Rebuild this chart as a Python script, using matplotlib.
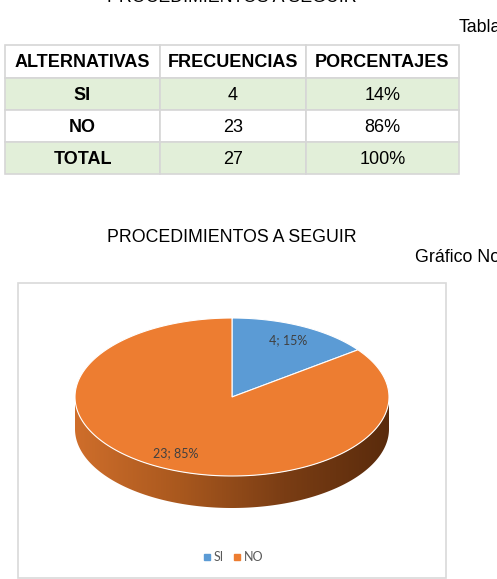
import numpy as np
import matplotlib
matplotlib.use("Agg")
import matplotlib.pyplot as plt
from matplotlib.patches import Polygon, Rectangle
from matplotlib.lines import Line2D
from matplotlib.colors import LinearSegmentedColormap

# data
alternativas = ['SI', 'NO', 'TOTAL']
frecuencias = [4, 23, 27]
porcentajes = ['14%', '86%', '100%']
headers = ['ALTERNATIVAS', 'FRECUENCIAS', 'PORCENTAJES']

categorias = ['SI', 'NO']
valores = [4, 23]
colores = ['#5B9BD5', '#ED7D31']

plt.rcParams['font.family'] = ['Liberation Sans', 'DejaVu Sans']

fig = plt.figure(figsize=(4.97, 5.79), dpi=100)
ax = fig.add_axes([0, 0, 1, 1])
ax.set_xlim(0, 497)
ax.set_ylim(579, 0)
ax.axis('off')

# titles (the top one is cut by the page edge in the original)
ax.text(232, -3, 'PROCEDIMIENTOS A SEGUIR', ha='center', va='center', fontsize=12.8)
ax.text(459, 28, 'Tabla', ha='left', va='center', fontsize=12.8)
ax.text(232, 238, 'PROCEDIMIENTOS A SEGUIR', ha='center', va='center', fontsize=12.8)
ax.text(415, 258, 'Gráfico No', ha='left', va='center', fontsize=12.8)

# table
col_x = [5, 160, 306, 459]
row_y = [45, 78, 110, 142, 174]
fills = ['white', '#E2EFD9', 'white', '#E2EFD9']
rows = [headers] + [[a, str(f), p] for a, f, p in zip(alternativas, frecuencias, porcentajes)]
for r, row in enumerate(rows):
    for c, txt in enumerate(row):
        ax.add_patch(Rectangle((col_x[c], row_y[r]), col_x[c + 1] - col_x[c], row_y[r + 1] - row_y[r],
                               facecolor=fills[r], edgecolor='#D6D6D6', lw=1.2))
        bold = (r == 0) or (c == 0)
        ax.text((col_x[c] + col_x[c + 1]) / 2, (row_y[r] + row_y[r + 1]) / 2 + 1, txt,
                ha='center', va='center', fontsize=13,
                fontweight='bold' if bold else 'normal')

# chart frame
ax.add_patch(Rectangle((18, 283), 428, 295, facecolor='white', edgecolor='#D9D9D9', lw=1.2))

# 3D pie
cx, cy, rx, ry, depth = 232, 397, 157, 79, 32

def pt(theta_deg, dy=0.0, f=1.0):
    t = np.radians(theta_deg)
    return cx + f * rx * np.cos(t), cy - f * ry * np.sin(t) + dy

# side wall (front half)
th = np.linspace(180, 360, 200)
top = [pt(t) for t in th]
bot = [pt(t, depth) for t in th[::-1]]
side = Polygon(top + bot, closed=True, facecolor='none', edgecolor='none')
ax.add_patch(side)
cmap = LinearSegmentedColormap.from_list('side', ['#CF6E2B', '#A9581E', '#7A3D14', '#5A2B0C'])
grad = np.linspace(0, 1, 256).reshape(1, -1)
im = ax.imshow(grad, cmap=cmap, extent=(cx - rx, cx + rx, cy + ry + depth, cy - ry),
               aspect='auto', zorder=2)
im.set_clip_path(side)
ax.set_xlim(0, 497)
ax.set_ylim(579, 0)

# top face
total = sum(valores)
start = 90.0
mids = []
for v, col in zip(valores, colores):
    sweep = 360.0 * v / total
    angs = np.linspace(start, start - sweep, 200)
    poly = [(cx, cy)] + [pt(a) for a in angs]
    ax.add_patch(Polygon(poly, closed=True, facecolor=col, edgecolor='white', lw=0.8, zorder=3))
    mids.append(start - sweep / 2)
    start -= sweep

# labels
pcts = [round(100 * v / total) for v in valores]
for v, p, m in zip(valores, pcts, mids):
    x, y = pt(m, f=0.8)
    ax.text(x, y, f'{v}; {p}%', ha='center', va='center', fontsize=9,
            color='#404040', family=['Lato', 'DejaVu Sans'], zorder=4)

# legend
handles = [Line2D([], [], marker='s', ls='', color=c, markersize=4) for c in colores]
leg = ax.legend(handles, categorias, loc='center', bbox_to_anchor=(232, 557),
                bbox_transform=ax.transData, ncol=2, frameon=False,
                handletextpad=0.0, columnspacing=0.6, handlelength=1.0,
                prop={'family': ['Lato', 'DejaVu Sans'], 'size': 9})
for t in leg.get_texts():
    t.set_color('#595959')

fig.savefig('out.png', dpi=100)
